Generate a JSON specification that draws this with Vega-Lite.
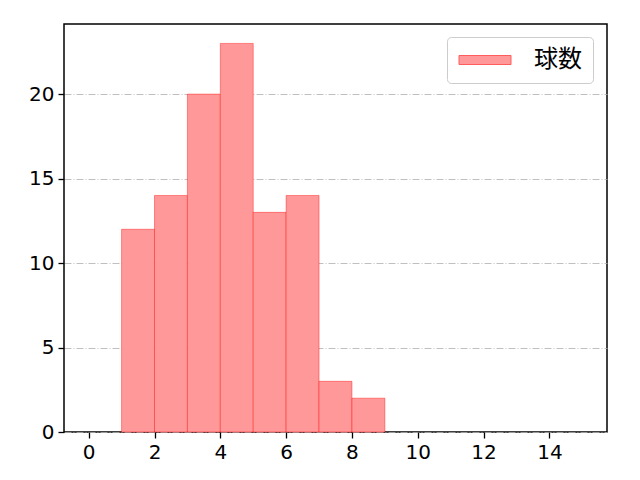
{
  "$schema": "https://vega.github.io/schema/vega-lite/v6.json",
  "width": 543,
  "height": 408,
  "autosize": {"type": "none"},
  "padding": {"left": 64, "top": 24, "right": 33, "bottom": 48},
  "background": "white",
  "config": {
    "font": "Noto Sans CJK JP",
    "view": {"stroke": "#000000", "strokeWidth": 1.5},
    "axis": {
      "domain": false,
      "tickColor": "#000000",
      "tickSize": 6,
      "tickWidth": 1.3,
      "labelFont": "DejaVu Sans",
      "labelFontSize": 20,
      "labelColor": "#000000",
      "labelPadding": 4,
      "title": null
    }
  },
  "data": {
    "values": [
      {"bin_start": 1, "bin_end": 2, "count": 12, "series": "球数"},
      {"bin_start": 2, "bin_end": 3, "count": 14, "series": "球数"},
      {"bin_start": 3, "bin_end": 4, "count": 20, "series": "球数"},
      {"bin_start": 4, "bin_end": 5, "count": 23, "series": "球数"},
      {"bin_start": 5, "bin_end": 6, "count": 13, "series": "球数"},
      {"bin_start": 6, "bin_end": 7, "count": 14, "series": "球数"},
      {"bin_start": 7, "bin_end": 8, "count": 3, "series": "球数"},
      {"bin_start": 8, "bin_end": 9, "count": 2, "series": "球数"}
    ]
  },
  "mark": {"type": "bar", "stroke": "#ff0000", "strokeOpacity": 0.4, "strokeWidth": 1, "fillOpacity": 1},
  "encoding": {
    "x": {
      "field": "bin_start",
      "type": "quantitative",
      "scale": {"domain": [-0.75, 15.75], "nice": false, "zero": false},
      "axis": {"values": [0, 2, 4, 6, 8, 10, 12, 14], "grid": false}
    },
    "x2": {"field": "bin_end"},
    "y": {
      "field": "count",
      "type": "quantitative",
      "scale": {"domain": [0, 24.15], "nice": false},
      "axis": {
        "values": [0, 5, 10, 15, 20],
        "grid": true,
        "gridColor": "#b0b0b0",
        "gridWidth": 0.8,
        "gridDash": [7, 2, 1, 2]
      }
    },
    "y2": {"datum": 0},
    "color": {
      "field": "series",
      "type": "nominal",
      "scale": {"domain": ["球数"], "range": ["#ff9999"]},
      "legend": {
        "title": null,
        "orient": "none",
        "legendX": 383,
        "legendY": 13,
        "padding": 11,
        "fillColor": "#ffffff",
        "strokeColor": "#cccccc",
        "cornerRadius": 4,
        "symbolType": "M-2.6,-0.45H2.6V0.45H-2.6Z",
        "symbolSize": 400,
        "symbolOffset": 15,
        "symbolStrokeColor": "#ff5c5c",
        "symbolStrokeWidth": 1,
        "symbolOpacity": 1,
        "labelFontSize": 24,
        "labelColor": "#000000",
        "labelOffset": 37
      }
    }
  }
}
